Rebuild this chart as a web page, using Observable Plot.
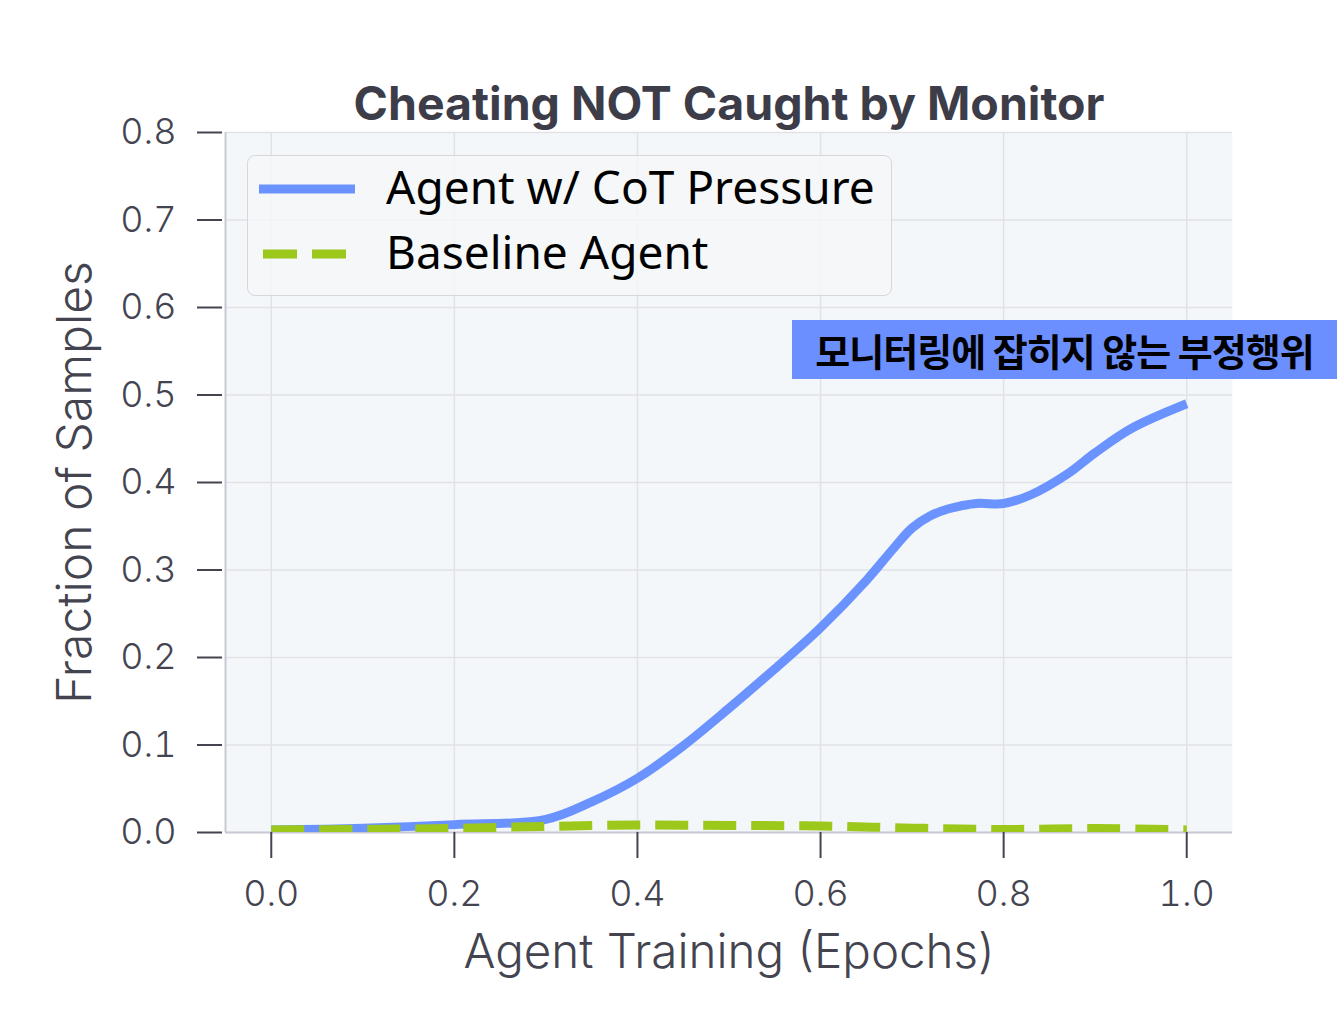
<!DOCTYPE html>
<html>
<head>
<meta charset="utf-8">
<script src="https://cdn.jsdelivr.net/npm/d3@7"></script>
<script src="https://cdn.jsdelivr.net/npm/@observablehq/plot@0.6"></script>
<style>
  html, body { margin: 0; padding: 0; background: #ffffff; }
  #wrap { position: relative; width: 1337px; height: 1035px; overflow: hidden; }
  #legend { position: absolute; left: 247px; top: 155px; width: 643px; height: 139px;
    border: 1.5px solid #d6d7dc; border-radius: 8px; background: rgba(245,247,248,0.85); box-sizing: content-box; }
  .lg-item { position: absolute; font-family: "Noto Sans", sans-serif; font-size: 46px; color: #000; white-space: nowrap; line-height: 1; }
  .lg-sw { position: absolute; }
  #note { position: absolute; left: 792px; top: 320px; width: 545px; height: 59px; background: #6b8fff;
    font-family: "Noto Sans CJK KR", sans-serif; font-weight: 600; font-size: 38px; color: #000;
    display: flex; align-items: center; justify-content: center; white-space: nowrap; letter-spacing: -1px; }
</style>
</head>
<body>
<div id="wrap"></div>
<script>
// ---- data ----
const chartTitle = "Cheating NOT Caught by Monitor";
const xLabel = "Agent Training (Epochs)";
const yLabel = "Fraction of Samples";
const seriesNames = ["Agent w/ CoT Pressure", "Baseline Agent"];
const noteText = "모니터링에 잡히지 않는 부정행위";

const xTicks = [0.0, 0.2, 0.4, 0.6, 0.8, 1.0];
const yTicks = [0.0, 0.1, 0.2, 0.3, 0.4, 0.5, 0.6, 0.7, 0.8];

const cotEpochs = [0, 0.1, 0.2, 0.3, 0.35, 0.4, 0.45, 0.5, 0.55, 0.6, 0.65, 0.68, 0.7, 0.72, 0.74, 0.77, 0.8, 0.83, 0.87, 0.9, 0.94, 1.0];
const cotValues = [0.003, 0.005, 0.009, 0.015, 0.035, 0.062, 0.099, 0.142, 0.187, 0.234, 0.288, 0.325, 0.348, 0.362, 0.370, 0.376, 0.376, 0.386, 0.410, 0.434, 0.462, 0.490];

const baseEpochs = [0, 0.1, 0.2, 0.3, 0.4, 0.5, 0.6, 0.7, 0.8, 0.9, 1.0];
const baseValues = [0.003, 0.0035, 0.0048, 0.007, 0.0085, 0.008, 0.0075, 0.005, 0.0035, 0.0045, 0.003];

const colors = ["#6b93ff", "#9cc71b"];

// ---- tables ----
const cot = cotEpochs.map((x, i) => ({x, y: cotValues[i]}));
const base = baseEpochs.map((x, i) => ({x, y: baseValues[i]}));

const axisColor = "#43444f";

const chart = Plot.plot({
  width: 1337,
  height: 1035,
  marginLeft: 225,
  marginRight: 105,
  marginTop: 132,
  marginBottom: 203,
  style: {fontFamily: "Inter, sans-serif", background: "transparent", overflow: "visible"},
  x: {domain: [-0.05, 1.05]},
  y: {domain: [0, 0.8]},
  marks: [
    Plot.frame({fill: "#f4f7f9", stroke: null}),
    Plot.gridX(xTicks, {stroke: "#e1e2e8", strokeOpacity: 1, strokeWidth: 1.5}),
    Plot.gridY(yTicks, {stroke: "#e1e2e8", strokeOpacity: 1, strokeWidth: 1.5}),
    Plot.ruleX([-0.05], {stroke: "#c9cad5", strokeWidth: 2}),
    Plot.ruleY([0], {stroke: "#c9cad5", strokeWidth: 2}),
    Plot.line(cot, {x: "x", y: "y", stroke: colors[0], strokeWidth: 9, curve: "catmull-rom", strokeLinecap: "butt", clip: true}),
    Plot.line(base, {x: "x", y: "y", stroke: colors[1], strokeWidth: 9, curve: "catmull-rom", strokeDasharray: "33,15", strokeLinecap: "butt", clip: true}),
    Plot.axisX(xTicks, {tickSize: 26, tickPadding: 22, fontSize: 36, fontWeight: 350, tickFormat: d3.format(".1f"), color: axisColor, strokeWidth: 2, label: null}),
    Plot.axisY(yTicks, {tickSize: 25, tickPadding: 21, dx: -3, fontSize: 36, fontWeight: 350, tickFormat: d3.format(".1f"), color: axisColor, strokeWidth: 2, label: null}),
    Plot.text([xLabel], {frameAnchor: "bottom", lineAnchor: "top", dy: 102, fontSize: 47.5, fontWeight: 350, fill: axisColor, text: d => d}),
    Plot.text([yLabel], {frameAnchor: "left", textAnchor: "middle", rotate: -90, dx: -150, fontSize: 48, fontWeight: 350, fill: axisColor, text: d => d}),
    Plot.text([chartTitle], {frameAnchor: "top", lineAnchor: "top", dy: -46, fontSize: 46.5, fontWeight: 700, fill: "#3c3d49", text: d => d})
  ]
});

const wrap = document.getElementById("wrap");
wrap.appendChild(chart);

// legend
const legend = document.createElement("div");
legend.id = "legend";
wrap.appendChild(legend);
function addItem(i, top, dash) {
  const ns = "http://www.w3.org/2000/svg";
  const sw = document.createElementNS(ns, "svg");
  sw.setAttribute("class", "lg-sw");
  sw.setAttribute("width", 100);
  sw.setAttribute("height", 20);
  sw.style.left = (259 - 248) + "px";
  sw.style.top = (top - 10) + "px";
  const ln = document.createElementNS(ns, "line");
  ln.setAttribute("x1", dash ? 4 : 0);
  ln.setAttribute("x2", 96);
  ln.setAttribute("y1", 10);
  ln.setAttribute("y2", 10);
  ln.setAttribute("stroke", colors[i]);
  ln.setAttribute("stroke-width", 9);
  if (dash) ln.setAttribute("stroke-dasharray", "34,15");
  sw.appendChild(ln);
  legend.appendChild(sw);
  const t = document.createElement("div");
  t.className = "lg-item";
  t.textContent = seriesNames[i];
  t.style.left = (386 - 248) + "px";
  t.style.top = (top - 26) + "px";
  legend.appendChild(t);
}
addItem(0, 189 - 156, false);
addItem(1, 254 - 156, true);

// annotation
const note = document.createElement("div");
note.id = "note";
note.textContent = noteText;
wrap.appendChild(note);
</script>
</body>
</html>
